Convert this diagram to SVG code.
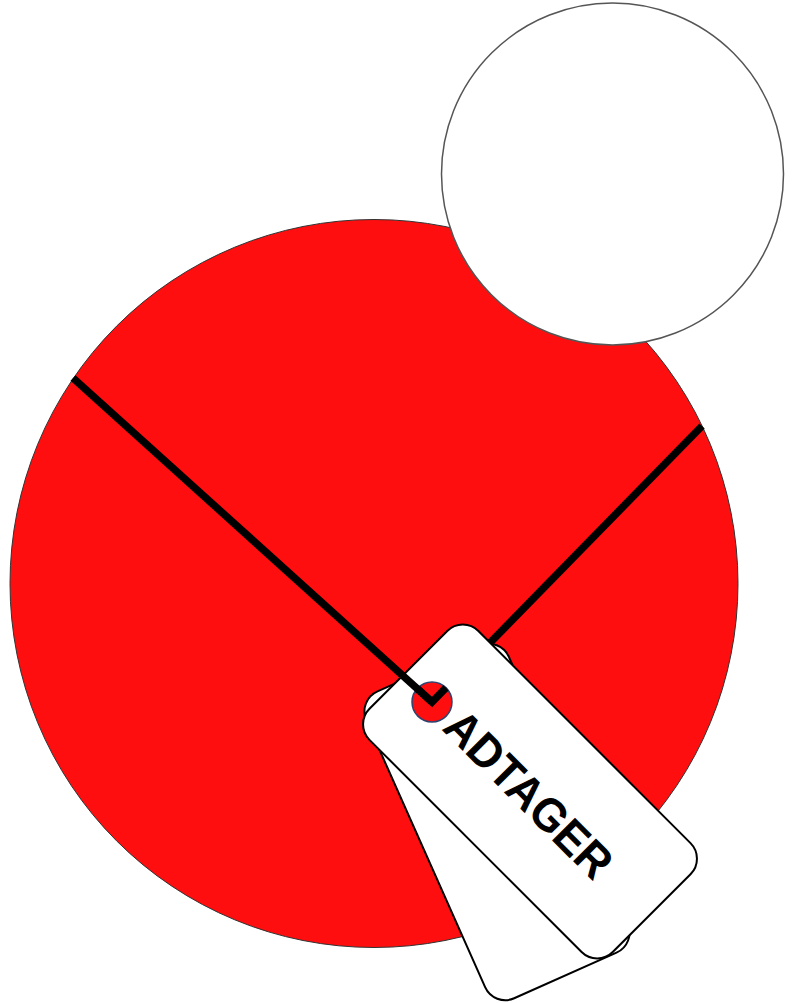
<svg xmlns="http://www.w3.org/2000/svg" width="796" height="1003" viewBox="0 0 796 1003">
  <style>
    .tag { fill: #ffffff; stroke: #000000; stroke-width: 2; }
    .string { fill: none; stroke: #000000; stroke-width: 7.5; stroke-linecap: butt; stroke-linejoin: miter; }
    .label { font-family: "Liberation Sans", Arial, sans-serif; font-weight: bold; font-size: 47px; fill: #000000; }
  </style>
  <defs>
    <clipPath id="holeClip">
      <circle cx="432" cy="702" r="20"/>
    </clipPath>
  </defs>
  <rect x="0" y="0" width="796" height="1003" fill="#ffffff"/>
  <g id="red-circle">
    <circle cx="374" cy="583.5" r="364" fill="#fe0e0e" stroke="#333333" stroke-width="1"/>
  </g>
  <g id="white-circle">
    <circle cx="612.5" cy="174" r="171" fill="#ffffff" stroke="#555555" stroke-width="1.5"/>
  </g>
  <g id="connectors-back">
    <line class="string" x1="702" y1="426" x2="432" y2="702"/>
  </g>
  <g id="tag-back" transform="translate(497 822) rotate(66)">
    <rect class="tag" x="-168" y="-78" width="336" height="156" rx="22" ry="22"/>
  </g>
  <g id="tag-front" transform="translate(530 791.5) rotate(45)">
    <rect class="tag" x="-172" y="-77" width="344" height="154" rx="22" ry="22"/>
    <text class="label" x="1" y="19" text-anchor="middle" textLength="216" lengthAdjust="spacingAndGlyphs">ADTAGER</text>
  </g>
  <g id="hole">
    <circle cx="432" cy="702" r="20" fill="#fe0e0e" stroke="#2e4470" stroke-width="1.5"/>
  </g>
  <g id="connectors">
    <line class="string" x1="73" y1="378" x2="432" y2="702"/>
    <g clip-path="url(#holeClip)">
      <polyline class="string" points="73,378 432,702 702,426"/>
    </g>
  </g>
</svg>
